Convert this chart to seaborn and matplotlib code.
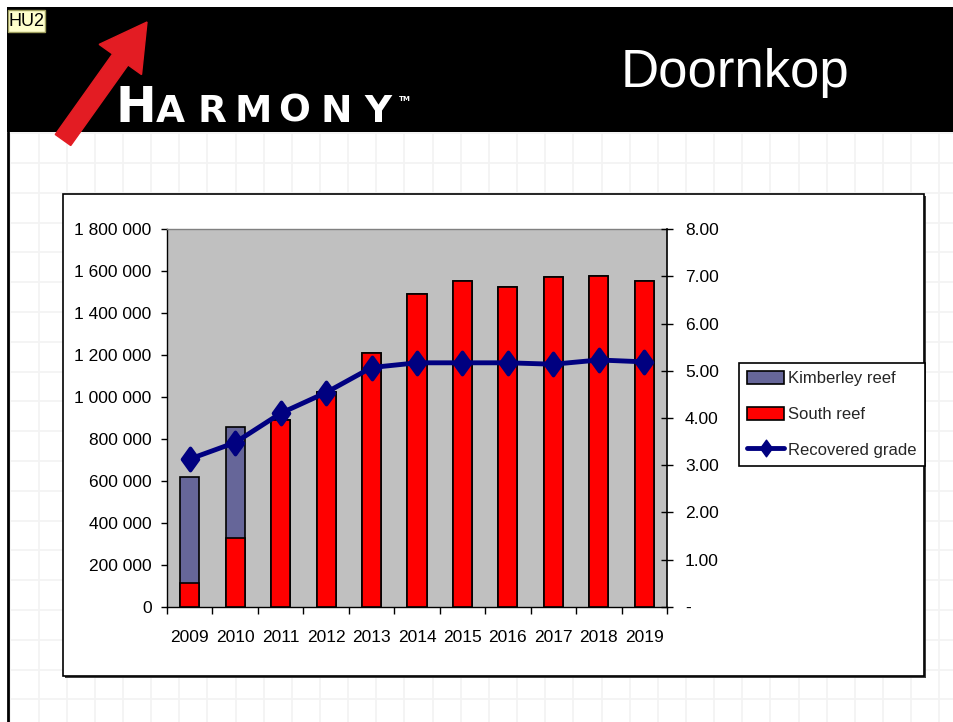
import numpy as np
import matplotlib
matplotlib.use("Agg")
import matplotlib.pyplot as plt
import seaborn as sns
from matplotlib.patches import Rectangle, FancyArrow, Patch
from matplotlib.lines import Line2D
from matplotlib.path import Path
from matplotlib.ticker import FuncFormatter, FixedLocator

# ---------------- data ----------------
years = ["2009", "2010", "2011", "2012", "2013", "2014", "2015", "2016", "2017", "2018", "2019"]
kimberley_reef = [502500, 532500, 0, 0, 0, 0, 0, 0, 0, 0, 0]
south_reef = [114500, 326000, 890000, 1023000, 1209000, 1491000, 1555000, 1523000, 1571000, 1579000, 1555000]
recovered_grade = [3.13, 3.48, 4.10, 4.54, 5.07, 5.17, 5.17, 5.17, 5.14, 5.23, 5.19]
left_ticks = [0, 200000, 400000, 600000, 800000, 1000000, 1200000, 1400000, 1600000, 1800000]
right_ticks = [0, 1, 2, 3, 4, 5, 6, 7, 8]
legend_labels = ["Kimberley reef", "South reef", "Recovered grade"]

total = [k + s for k, s in zip(kimberley_reef, south_reef)]

KIM = "#666699"
SOUTH = "#ff0000"
NAVY = "#000080"
FS = 12.5

sns.set_theme(style="white")
plt.rcParams["font.family"] = ["Liberation Sans", "DejaVu Sans"]
plt.rcParams["axes.edgecolor"] = "black"

W, H = 954, 722
fig = plt.figure(figsize=(W / 100, H / 100), dpi=100)
fig.patch.set_facecolor("white")

# ---------------- slide background ----------------
bg = fig.add_axes([0, 0, 1, 1], zorder=-5)
bg.set_xlim(0, W)
bg.set_ylim(H, 0)
bg.axis("off")

for x in np.arange(66.7 - 2 * 28.15, W, 28.15):
    bg.plot([x, x], [132, H], color="#f3f3f3", lw=1.3, zorder=0)
for y in np.arange(163 - 29.8, H, 29.8):
    bg.plot([8, W], [y, y], color="#f3f3f3", lw=1.3, zorder=0)

bg.add_patch(Rectangle((7, 7), W - 7, 125, facecolor="black", edgecolor="none", zorder=1))
bg.plot([8, 8], [132, H], color="black", lw=2, zorder=2)

# logo arrow
bg.add_patch(FancyArrow(63, 140, 84, -118, width=19, head_width=52, head_length=46,
                        length_includes_head=True, color="#e31c23", zorder=3))
# HARMONY text
bg.text(116, 122, "H", color="white", fontsize=35, fontweight="bold",
        family="DejaVu Sans", va="baseline", ha="left", zorder=4)
for i, ch in enumerate("ARMONY"):
    bg.text(170 + 41.5 * i, 122, ch, color="white", fontsize=27, fontweight="bold",
            family="DejaVu Sans", va="baseline", ha="center", zorder=4)
bg.text(399, 101, "TM", color="white", fontsize=5, fontweight="bold",
        family="DejaVu Sans", va="baseline", ha="left", zorder=4)

# title
bg.text(621, 87, "Doornkop", color="white", fontsize=38, family="Liberation Sans",
        va="baseline", ha="left", zorder=4)

# HU2 tag
bg.add_patch(Rectangle((8, 10), 37, 22, facecolor="#ffffcc", edgecolor="#a0a060", lw=1, zorder=4))
bg.text(26.5, 21.5, "HU2", color="black", fontsize=13, family="Liberation Sans",
        ha="center", va="center", zorder=5)

# chart box with shadow
bg.add_patch(Rectangle((65, 196), 861, 482, facecolor="#404040", edgecolor="none", zorder=2))
bg.add_patch(Rectangle((63, 194), 861, 482, facecolor="white", edgecolor="black", lw=1.2, zorder=3))

# ---------------- chart ----------------
ax = fig.add_axes([167 / W, 1 - 606.7 / H, 500 / W, 377.4 / H], zorder=1)
ax.set_facecolor("#c0c0c0")

sns.barplot(x=years, y=total, color=KIM, saturation=1, edgecolor="black", linewidth=1.2,
            width=0.42, ax=ax, zorder=2)
sns.barplot(x=years, y=south_reef, color=SOUTH, saturation=1, edgecolor="black", linewidth=1.2,
            width=0.42, ax=ax, zorder=3)

ax2 = ax.twinx()
ax2.set_zorder(2)
ax2.patch.set_visible(False)

diamond = Path([(0, 1), (0.72, 0), (0, -1), (-0.72, 0), (0, 1)],
               [Path.MOVETO, Path.LINETO, Path.LINETO, Path.LINETO, Path.CLOSEPOLY])

sns.pointplot(x=years, y=recovered_grade, ax=ax2, color=NAVY, errorbar=None,
              marker=diamond, markersize=16, linewidth=3.5)

# axes limits & ticks
ax.set_xlim(-0.5, len(years) - 0.5)
ax.set_ylim(0, 1800000)
ax2.set_ylim(0, 8)

ax.set_xticks(range(len(years)))
ax.set_xticklabels(years)
ax.xaxis.set_minor_locator(FixedLocator(np.arange(-0.5, len(years), 1.0)))
ax.tick_params(axis="x", which="major", length=0, pad=17, labelsize=FS, colors="black")
ax.tick_params(axis="x", which="minor", length=5, width=1, direction="out",
               color="black", bottom=True)

ax.set_yticks(left_ticks)
ax.yaxis.set_major_formatter(FuncFormatter(lambda v, p: f"{int(v):,}".replace(",", " ")))
ax.tick_params(axis="y", which="major", length=4, width=1, direction="out", pad=7,
               labelsize=FS, colors="black", left=True)

ax2.set_yticks(right_ticks)
ax2.yaxis.set_major_formatter(FuncFormatter(lambda v, p: "-" if v == 0 else f"{v:.2f}"))
ax2.tick_params(axis="y", which="major", length=8, width=1, direction="inout", pad=9,
                labelsize=FS, colors="black", right=True)

ax.set_xlabel("")
ax.set_ylabel("")
ax2.set_xlabel("")
ax2.set_ylabel("")

for s in ["left", "bottom"]:
    ax.spines[s].set_color("black")
    ax.spines[s].set_linewidth(1)
ax.spines["top"].set_color("#808080")
ax.spines["top"].set_linewidth(1)
ax.spines["right"].set_visible(False)
for s in ["left", "bottom", "top"]:
    ax2.spines[s].set_visible(False)
ax2.spines["right"].set_color("black")
ax2.spines["right"].set_linewidth(1.2)
ax.grid(False)
ax2.grid(False)

# legend
handles = [
    Patch(facecolor=KIM, edgecolor="black", linewidth=1.2),
    Patch(facecolor=SOUTH, edgecolor="black", linewidth=1.2),
    Line2D([], [], color=NAVY, lw=3.5, marker=diamond, markersize=12),
]
leg = ax2.legend(handles, legend_labels, loc="upper left",
                 bbox_to_anchor=(739 / W, 1 - 363 / H), bbox_transform=fig.transFigure,
                 frameon=True, fancybox=False, framealpha=1, edgecolor="black",
                 fontsize=12, handlelength=2.2, handleheight=0.8, handletextpad=0.25,
                 labelspacing=1.22, borderpad=0.5, borderaxespad=0)
leg.get_frame().set_linewidth(1.2)

fig.savefig("out.png", dpi=100)
